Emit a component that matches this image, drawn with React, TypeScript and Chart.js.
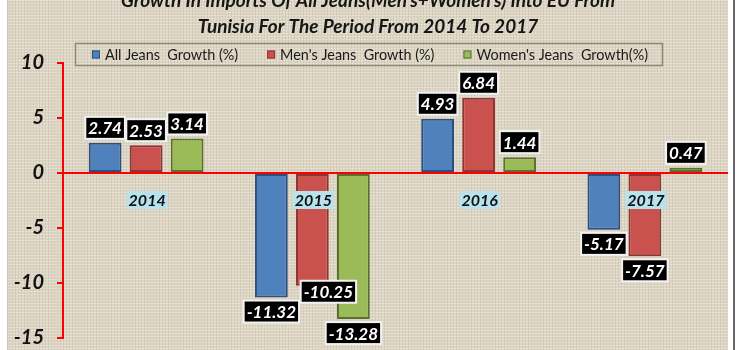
import React, { useEffect, useRef } from 'react';
import { Chart, registerables } from 'chart.js';

Chart.register(...registerables);

const titleLines = [
  "Growth In Imports Of All Jeans(Men's+Women's) Into EU From",
  'Tunisia For The Period From 2014 To 2017',
];
const categories = ['2014', '2015', '2016', '2017'];
const seriesNames = ['All Jeans  Growth (%)', "Men's Jeans  Growth (%)", "Women's Jeans  Growth(%)"];
const allJeans = [2.74, -11.32, 4.93, -5.17];
const mensJeans = [2.53, -10.25, 6.84, -7.57];
const womensJeans = [3.14, -13.28, 1.44, 0.47];
const yTicks = [10, 5, 0, -5, -10, -15];

const fills = ['#4f81bd', '#c9524f', '#9bbb59'];
const borders = ['#2c4f7c', '#8c3532', '#5a7030'];
// manual label nudges (dataset-index:category-index -> [dx, dy]), as in the original
const labelNudges: Record<string, [number, number]> = { '1:1': [16, -8] };

const FONT = 'Lato, "Open Sans", sans-serif';

function makeTexture(): CanvasPattern | string {
  const c = document.createElement('canvas');
  c.width = 6;
  c.height = 6;
  const g = c.getContext('2d');
  if (!g) return '#dcd4c2';
  g.fillStyle = '#ddd5c4';
  g.fillRect(0, 0, 6, 6);
  g.fillStyle = 'rgba(240,234,222,0.6)';
  g.fillRect(0, 0, 6, 1);
  g.fillRect(0, 3, 6, 1);
  g.fillStyle = 'rgba(190,180,160,0.35)';
  g.fillRect(0, 0, 1, 6);
  g.fillRect(3, 0, 1, 6);
  const p = g.createPattern(c, 'repeat');
  return p || '#dcd4c2';
}

const framePlugin = {
  id: 'framePlugin',
  beforeDraw(chart: any) {
    const ctx = chart.ctx as CanvasRenderingContext2D;
    const W = chart.width;
    const H = chart.height;
    ctx.save();
    ctx.fillStyle = '#ffffff';
    ctx.fillRect(0, 0, W, H);
    ctx.fillStyle = makeTexture() as any;
    ctx.fillRect(8, 0, 720, H);
    ctx.fillStyle = '#c6c6c6';
    ctx.fillRect(7, 0, 1, H);
    ctx.fillStyle = '#6a6a6a';
    ctx.fillRect(733, 0, 2, H);

    // title
    ctx.fillStyle = '#161616';
    ctx.font = `italic bold 19px ${FONT}`;
    ctx.textAlign = 'center';
    ctx.textBaseline = 'alphabetic';
    ctx.fillText(titleLines[0], 368, 7);
    ctx.fillText(titleLines[1], 368, 33);

    // legend
    ctx.strokeStyle = '#8e887c';
    ctx.lineWidth = 1.5;
    ctx.strokeRect(75.5, 43.5, 587, 22);
    ctx.font = `14.4px ${FONT}`;
    const widths = seriesNames.map((s) => ctx.measureText(s).width);
    const gap = 29;
    const total = widths.reduce((a, b) => a + b + 13, 0) + gap * (seriesNames.length - 1);
    let x = 370 - total / 2;
    const cy = 54.5;
    ctx.textAlign = 'left';
    ctx.textBaseline = 'middle';
    seriesNames.forEach((s, i) => {
      ctx.fillStyle = fills[i];
      ctx.fillRect(x, cy - 4, 8, 8);
      ctx.strokeStyle = borders[i];
      ctx.lineWidth = 1;
      ctx.strokeRect(x + 0.5, cy - 3.5, 7, 7);
      ctx.fillStyle = '#1a1a1a';
      ctx.fillText(s, x + 13, cy + 1);
      x += 13 + widths[i] + gap;
    });
    ctx.restore();
  },
};

const overlayPlugin = {
  id: 'overlayPlugin',
  afterDatasetsDraw(chart: any) {
    const ctx = chart.ctx as CanvasRenderingContext2D;
    const yScale = chart.scales.y;
    const xScale = chart.scales.x;
    const area = chart.chartArea;
    const zeroY = Math.round(yScale.getPixelForValue(0));
    ctx.save();
    // zero line
    ctx.strokeStyle = '#ff0000';
    ctx.lineWidth = 2;
    ctx.beginPath();
    ctx.moveTo(area.left - 6, zeroY);
    ctx.lineTo(area.right, zeroY);
    ctx.stroke();

    // category labels
    ctx.font = `italic bold 16px ${FONT}`;
    ctx.textAlign = 'center';
    ctx.textBaseline = 'middle';
    categories.forEach((c, j) => {
      const cx = xScale.getPixelForValue(j) + 1;
      const cyy = zeroY + 27;
      const w = ctx.measureText(c).width + 4;
      ctx.fillStyle = '#b9e3ec';
      ctx.fillRect(cx - w / 2, cyy - 9, w, 18);
      ctx.fillStyle = '#111111';
      ctx.fillText(c, cx, cyy + 1);
    });

    // data labels
    ctx.font = `italic bold 17px ${FONT}`;
    chart.data.datasets.forEach((ds: any, i: number) => {
      const meta = chart.getDatasetMeta(i);
      meta.data.forEach((bar: any, j: number) => {
        const v = ds.data[j] as number;
        const p = bar.getProps(['x', 'y'], true);
        const nudge = labelNudges[`${i}:${j}`] || [0, 0];
        const txt = v.toFixed(2);
        const w = ctx.measureText(txt).width + 6;
        const h = 22;
        const cx = p.x + nudge[0];
        const top = (v >= 0 ? p.y - 4 - h : p.y + 3) + nudge[1];
        ctx.fillStyle = '#000000';
        ctx.fillRect(cx - w / 2, top, w, h);
        ctx.strokeStyle = '#f2f2f2';
        ctx.lineWidth = 2;
        ctx.strokeRect(cx - w / 2, top, w, h);
        ctx.fillStyle = '#ffffff';
        ctx.fillText(txt, cx, top + h / 2 + 1);
      });
    });
    ctx.restore();
  },
};

export default function App() {
  const ref = useRef<HTMLCanvasElement | null>(null);
  useEffect(() => {
    if (!ref.current) return;
    const seriesData = [allJeans, mensJeans, womensJeans];
    const chart = new Chart(ref.current, {
      type: 'bar',
      data: {
        labels: categories,
        datasets: seriesData.map((d, i) => ({
          label: seriesNames[i],
          data: d,
          backgroundColor: fills[i],
          borderColor: borders[i],
          borderWidth: 2,
          borderSkipped: false,
          barPercentage: 0.8,
          categoryPercentage: 0.74,
        })),
      },
      options: {
        animation: false,
        responsive: false,
        devicePixelRatio: 1,
        layout: { padding: { left: 0, top: 63, right: 12, bottom: 12 } },
        plugins: {
          legend: { display: false },
          title: { display: false },
          tooltip: { enabled: false },
        },
        scales: {
          x: { display: false, grid: { display: false } },
          y: {
            min: -15,
            max: 10,
            afterFit: (s: any) => {
              s.width = 63;
              s.paddingTop = 0;
              s.paddingBottom = 0;
            },
            afterBuildTicks: (s: any) => {
              s.ticks = yTicks.map((v) => ({ value: v }));
            },
            ticks: {
              padding: 13,
              color: '#111111',
              font: { family: FONT, size: 20, style: 'italic', weight: 'bold' },
            },
            grid: {
              display: true,
              drawOnChartArea: false,
              drawTicks: true,
              tickLength: 6,
              color: '#ff0000',
              lineWidth: 2,
            },
            border: { display: true, color: '#ff0000', width: 2 },
          },
        },
      },
      plugins: [framePlugin, overlayPlugin],
    } as any);
    return () => chart.destroy();
  }, []);
  return (
    <div style={{ position: 'fixed', left: 0, top: 0, width: 740, height: 350, overflow: 'hidden' }}>
      <canvas ref={ref} width={740} height={350} style={{ display: 'block' }} />
    </div>
  );
}
